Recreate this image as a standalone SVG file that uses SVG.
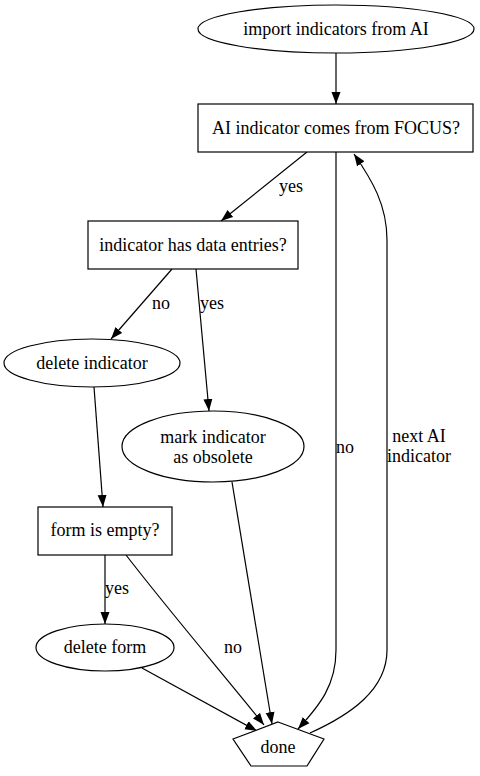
<svg xmlns="http://www.w3.org/2000/svg" width="480" height="776" viewBox="0 0 480 776">
<style>
.n{fill:#fff;stroke:#000;stroke-width:1.2}
text{font-family:"Liberation Serif","Times New Roman",serif;font-size:18px;fill:#000}
.c{text-anchor:middle}
.e{fill:none;stroke:#000;stroke-width:1.2;marker-end:url(#ah)}
</style>
<defs>
<marker id="ah" markerUnits="userSpaceOnUse" markerWidth="12" markerHeight="10" refX="12" refY="5" orient="auto">
<path d="M0,0.5 L12,5 L0,9.5 z" fill="#000"/>
</marker>
</defs>
<rect width="480" height="776" fill="#fff"/>
<g id="edges">
<path class="e" d="M336,53 L336,104"/>
<path class="e" d="M307,152 L221,221"/>
<text x="291" y="192" class="c">yes</text>
<path class="e" d="M172,269 L111,339"/>
<text x="161" y="309" class="c">no</text>
<path class="e" d="M196,269 L209,411"/>
<text x="212" y="309" class="c">yes</text>
<path class="e" d="M94,387 L103,507"/>
<path class="e" d="M105,555 L105,624"/>
<text x="117" y="594" class="c">yes</text>
<path class="e" d="M126,555 C170,612 228,680 264,725"/>
<text x="233" y="653" class="c">no</text>
<path class="e" d="M142,668 L257,731"/>
<path class="e" d="M232,482 L272,724"/>
<path class="e" d="M336,152 L336,650 C336,685 320,705 298,729"/>
<text x="336" y="453">no</text>
<path class="e" d="M310,733 C350,715 387,690 387,650 L387,240 C387,205 372,180 354,154"/>
<text x="419" y="442" class="c">next AI</text>
<text x="419" y="462" class="c">indicator</text>
</g>
<g id="import">
<ellipse class="n" cx="336" cy="29" rx="138" ry="24"/>
<text x="336" y="35" class="c">import indicators from AI</text>
</g>
<g id="fromfocus">
<rect class="n" x="198" y="104" width="275" height="48"/>
<text x="336" y="134" class="c">AI indicator comes from FOCUS?</text>
</g>
<g id="hasdata">
<rect class="n" x="88" y="221" width="210" height="48"/>
<text x="193" y="251" class="c">indicator has data entries?</text>
</g>
<g id="deleteindicator">
<ellipse class="n" cx="92" cy="363" rx="88" ry="24"/>
<text x="92" y="369" class="c">delete indicator</text>
</g>
<g id="markobsolete">
<ellipse class="n" cx="213" cy="446.5" rx="91" ry="35.5"/>
<text x="213" y="443" class="c">mark indicator</text>
<text x="213" y="463" class="c">as obsolete</text>
</g>
<g id="formempty">
<rect class="n" x="38" y="507" width="134" height="48"/>
<text x="105" y="536" class="c">form is empty?</text>
</g>
<g id="deleteform">
<ellipse class="n" cx="105" cy="647.5" rx="69" ry="23.5"/>
<text x="105" y="653" class="c">delete form</text>
</g>
<g id="done">
<polygon class="n" points="278,722 324,739 307,766 251,766 233,739"/>
<text x="278" y="753" class="c">done</text>
</g>
</svg>
